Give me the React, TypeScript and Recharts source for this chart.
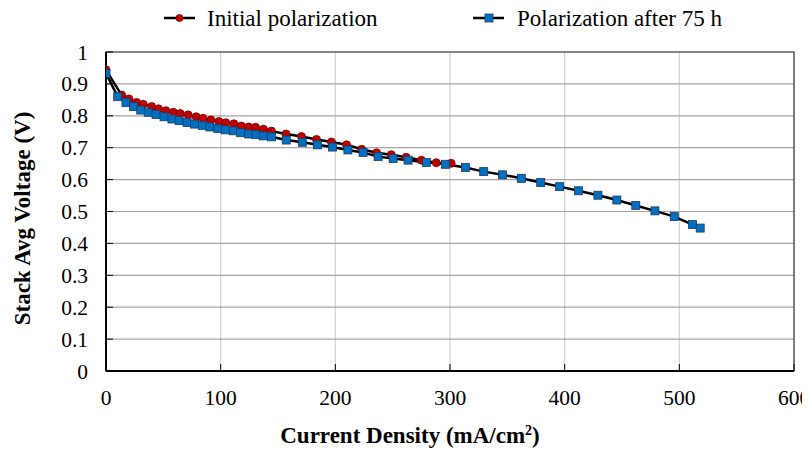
import React from "react";
import {
  LineChart,
  Line,
  XAxis,
  YAxis,
  CartesianGrid,
  Legend,
  ReferenceArea,
} from "recharts";

const FONT = "'Times New Roman', 'Liberation Serif', serif";

// Initial polarization curve
const initialCurrent = [
  0, 13.6, 20, 26.7, 32.5, 39.8, 45.8, 52.2, 58.7, 64.7, 71.6, 78.6, 84.6, 91.5,
  98.5, 104.5, 111.5, 118, 124.4, 130.4, 137.3, 144.3, 157, 170.5, 183.6, 196.6,
  209.8, 223, 236, 248.8, 261.7, 275, 288, 301,
];
const initialVoltage = [
  0.944, 0.865, 0.853, 0.842, 0.836, 0.829, 0.822, 0.816, 0.811, 0.807, 0.803,
  0.797, 0.792, 0.787, 0.782, 0.778, 0.775, 0.768, 0.765, 0.764, 0.758, 0.752,
  0.743, 0.735, 0.726, 0.718, 0.709, 0.695, 0.684, 0.678, 0.67, 0.661, 0.653,
  0.651,
];

// Polarization after 75 h
const agedCurrent = [
  0, 10.2, 17.4, 23.9, 30.3, 36.8, 43.6, 50.6, 57.5, 63.7, 70.7, 77.2, 84.2, 90.6,
  97.5, 104, 111, 117.4, 124.4, 130.7, 137.1, 144.3, 157.2, 171.2, 184.5, 197.5,
  211, 224.2, 237.3, 250.4, 263.4, 279.4, 296, 313.4, 329.4, 345.7, 362.2, 379.1,
  395.6, 412, 429, 445.5, 462, 478.7, 495.6, 511.5, 518.2,
];
const agedVoltage = [
  0.933, 0.86, 0.842, 0.829, 0.818, 0.811, 0.804, 0.797, 0.79, 0.785, 0.779,
  0.774, 0.77, 0.765, 0.76, 0.756, 0.753, 0.747, 0.743, 0.741, 0.737, 0.734,
  0.724, 0.717, 0.709, 0.702, 0.693, 0.685, 0.672, 0.666, 0.661, 0.654, 0.648,
  0.638, 0.625, 0.615, 0.604, 0.591, 0.578, 0.565, 0.551, 0.536, 0.519, 0.502,
  0.484, 0.459, 0.448,
];

const xTicks = [0, 100, 200, 300, 400, 500, 600];
const yTicks = [0, 0.1, 0.2, 0.3, 0.4, 0.5, 0.6, 0.7, 0.8, 0.9, 1];

const seriesNames = ["Initial polarization", "Polarization after 75 h"];

const initialData = initialCurrent.map((x, i) => ({ x, v: initialVoltage[i] }));
const agedData = agedCurrent.map((x, i) => ({ x, v: agedVoltage[i] }));

const RED = "#c00000";
const RED_EDGE = "#7a0000";
const BLUE = "#0070c0";
const BLUE_EDGE = "#1f3864";

const RedDot = (props: any) => {
  const { cx, cy, index } = props;
  if (cx == null || cy == null) return <g key={`r-${index}`} />;
  return (
    <circle key={`r-${index}`} cx={cx} cy={cy} r={4} fill={RED} stroke={RED_EDGE} strokeWidth={0.8} />
  );
};

const BlueDot = (props: any) => {
  const { cx, cy, index } = props;
  if (cx == null || cy == null) return <g key={`b-${index}`} />;
  return (
    <rect
      key={`b-${index}`}
      x={cx - 4}
      y={cy - 4}
      width={8}
      height={8}
      fill={BLUE}
      stroke={BLUE_EDGE}
      strokeWidth={0.8}
    />
  );
};

const XTick = (props: any) => {
  const { x, y, payload } = props;
  return (
    <g>
      <line x1={x} y1={y} x2={x} y2={y - 7} stroke="#000" strokeWidth={1} />
      <text x={x} y={y + 26} dy="0.35em" textAnchor="middle" fontSize={21.5} fontFamily={FONT} fill="#000">
        {payload.value}
      </text>
    </g>
  );
};

const YTick = (props: any) => {
  const { x, y, payload } = props;
  return (
    <g>
      <line x1={x} y1={y} x2={x + 7} y2={y} stroke="#000" strokeWidth={1} />
      <text x={x - 18} y={y} dy="0.35em" textAnchor="end" fontSize={21.5} fontFamily={FONT} fill="#000">
        {String(payload.value)}
      </text>
    </g>
  );
};

const XTitle = (props: any) => {
  const vb = props.viewBox || {};
  return (
    <text
      x={vb.x + vb.width / 2 - 40}
      y={vb.y + 64}
      dy="0.35em"
      textAnchor="middle"
      fontSize={23}
      fontWeight="bold"
      fontFamily={FONT}
      fill="#000"
    >
      Current Density (mA/cm
      <tspan dy={-8} fontSize={14}>2</tspan>
      <tspan dy={8}>)</tspan>
    </text>
  );
};

const YTitle = (props: any) => {
  const vb = props.viewBox || {};
  const cx = vb.x + 22;
  const cy = vb.y + vb.height / 2 + 7;
  return (
    <text
      x={cx}
      y={cy}
      dy="0.35em"
      transform={`rotate(-90 ${cx} ${cy})`}
      textAnchor="middle"
      fontSize={23}
      fontWeight="bold"
      fontFamily={FONT}
      fill="#000"
    >
      Stack Avg Voltage (V)
    </text>
  );
};

const LegendBox = () => (
  <svg width={810} height={36} style={{ display: "block" }}>
    <line x1={164} y1={18} x2={195} y2={18} stroke="#000" strokeWidth={2.5} />
    <circle cx={179.5} cy={18} r={3.5} fill={RED} stroke={RED_EDGE} strokeWidth={0.8} />
    <text x={207} y={18} dy="0.35em" fontSize={23} fontFamily={FONT} fill="#000">
      {seriesNames[0]}
    </text>
    <line x1={473} y1={18} x2={504} y2={18} stroke="#000" strokeWidth={2.5} />
    <rect x={485} y={14} width={8} height={8} fill={BLUE} stroke={BLUE_EDGE} strokeWidth={0.8} />
    <text x={517} y={18} dy="0.35em" fontSize={23} fontFamily={FONT} fill="#000">
      {seriesNames[1]}
    </text>
  </svg>
);

export default function App() {
  return (
    <div style={{ margin: "-8px 0 0 -8px", width: 810, height: 454 }}>
      <LineChart
        width={810}
        height={454}
        margin={{ top: 16, right: 16, bottom: 0, left: 0 }}
        style={{ fontFamily: FONT }}
      >
        <CartesianGrid horizontal={false} stroke="#d0d0d0" strokeWidth={1.2} />
        <CartesianGrid vertical={false} stroke="#a6a6a6" strokeWidth={1.2} />
        <XAxis
          type="number"
          dataKey="x"
          domain={[0, 600]}
          ticks={xTicks}
          allowDataOverflow
          height={83}
          tickSize={0}
          tickMargin={0}
          tickLine={false}
          axisLine={{ stroke: "#000", strokeWidth: 2 }}
          tick={<XTick />}
          label={<XTitle />}
        />
        <YAxis
          type="number"
          dataKey="v"
          domain={[0, 1]}
          ticks={yTicks}
          allowDataOverflow
          width={106}
          tickSize={0}
          tickMargin={0}
          tickLine={false}
          axisLine={{ stroke: "#000", strokeWidth: 2 }}
          tick={<YTick />}
          label={<YTitle />}
        />
        <ReferenceArea x1={0} x2={600} y1={0} y2={1} fill="none" stroke="#3a3a3a" strokeWidth={1.2} />
        <Legend
          verticalAlign="top"
          wrapperStyle={{ top: 0, left: 0, width: 810, height: 36 }}
          content={<LegendBox />}
        />
        <Line
          data={initialData}
          dataKey="v"
          name={seriesNames[0]}
          type="linear"
          stroke="#000"
          strokeWidth={2.5}
          dot={RedDot}
          activeDot={false}
          isAnimationActive={false}
        />
        <Line
          data={agedData}
          dataKey="v"
          name={seriesNames[1]}
          type="linear"
          stroke="#000"
          strokeWidth={2.5}
          dot={BlueDot}
          activeDot={false}
          isAnimationActive={false}
        />
      </LineChart>
    </div>
  );
}
